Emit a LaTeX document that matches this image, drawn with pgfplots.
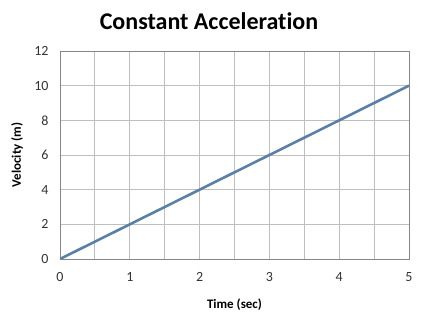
\documentclass[border=0pt]{standalone}
\usepackage{pgfplots}
\pgfplotsset{compat=1.18}
\usepackage{fontspec}
\setmainfont{Carlito}[Ligatures=NoCommon]
\definecolor{serblue}{HTML}{5A80A6}
\definecolor{gridc}{HTML}{BFBFBF}
\definecolor{axc}{HTML}{868686}
\begin{document}
\begin{tikzpicture}[x=1pt,y=1pt]
\begin{axis}[
  name=ax, at={(0,0)}, anchor=south west,
  scale only axis, width=349pt, height=208pt,
  xmin=0, xmax=5, ymin=0, ymax=12,
  xtick={0,1,2,3,4,5}, ytick={0,2,4,6,8,10,12},
  minor xtick={0.5,1.5,2.5,3.5,4.5},
  grid=both,
  major grid style={draw=gridc, line width=0.8pt},
  minor grid style={draw=gridc, line width=0.8pt},
  axis line style={draw=axc, line width=0.8pt},
  major tick length=0pt, minor tick length=0pt,
  /pgf/number format/assume math mode=true,
  tick label style={font=\fontsize{14}{16}\selectfont, text=black!80},
  xticklabel style={yshift=-10pt},
  yticklabel style={xshift=-8pt},
  xlabel={\textbf{Time (sec)}},
  ylabel={\textbf{Velocity (m)}},
  label style={font=\fontsize{13}{15}\selectfont},
  xlabel style={at={(axis description cs:0.5,-0.221)}, anchor=center},
  ylabel style={at={(axis description cs:-0.123,0.5)}, anchor=center},
]
\addplot[serblue, line width=2.6pt] coordinates {(0,0) (1,2) (2,4) (3,6) (4,8) (5,10)};
\end{axis}
\node[font=\fontsize{24}{28}\selectfont\bfseries] at (149,238) {Constant Acceleration};
\useasboundingbox (-60,-59) rectangle (369,259);
\end{tikzpicture}
\end{document}
